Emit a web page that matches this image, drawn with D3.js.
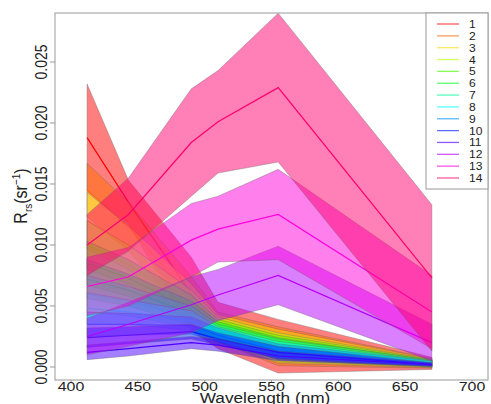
<!DOCTYPE html>
<html>
<head>
<meta charset="utf-8">
<script src="https://cdn.jsdelivr.net/npm/d3@7"></script>
<style>
  body { margin: 0; background: #fff; }
  text { font-family: "Liberation Sans", Arial, sans-serif; fill: #222; }
</style>
</head>
<body>
<div id="chart"></div>
<script>
// SeaWiFS bands (nm)
var wavelengths = [412, 443, 490, 510, 555, 670];
var classNames = ['1','2','3','4','5','6','7','8','9','10','11','12','13','14'];
var xTicks = [400, 450, 500, 550, 600, 650, 700];
var yTicks = [0, 0.005, 0.010, 0.015, 0.020, 0.025];

// class mean Rrs (sr^-1), one row per class
var meanRrs = [
  [0.0188, 0.0135, 0.0060, 0.0034, 0.0017, 0.0003],
  [0.0145, 0.0115, 0.0056, 0.0033, 0.0017, 0.0003],
  [0.0120, 0.0098, 0.0053, 0.0032, 0.0017, 0.0003],
  [0.0100, 0.0084, 0.0050, 0.0031, 0.0016, 0.0003],
  [0.0085, 0.0073, 0.0047, 0.0030, 0.0016, 0.0003],
  [0.0072, 0.0063, 0.0044, 0.0029, 0.0015, 0.0003],
  [0.0060, 0.0054, 0.0041, 0.0028, 0.0015, 0.0003],
  [0.0048, 0.0045, 0.0038, 0.0027, 0.0014, 0.0003],
  [0.0035, 0.0035, 0.0034, 0.0026, 0.0013, 0.0003],
  [0.0024, 0.0026, 0.0029, 0.0023, 0.0012, 0.0002],
  [0.0012, 0.0015, 0.0020, 0.0018, 0.0009, 0.0002],
  [0.0025, 0.0035, 0.0051, 0.0059, 0.0075, 0.0020],
  [0.0066, 0.0074, 0.0104, 0.0113, 0.0125, 0.0045],
  [0.0100, 0.0125, 0.0184, 0.0201, 0.0229, 0.0073]
];
// standard deviation, same layout
var sdRrs = [
  [0.0044, 0.0018, 0.0030, 0.0019, 0.0022, 0.0005],
  [0.0022, 0.0020, 0.0018, 0.0012, 0.0016, 0.0004],
  [0.0023, 0.0018, 0.0015, 0.0011, 0.0014, 0.00035],
  [0.0020, 0.0016, 0.0013, 0.0010, 0.0012, 0.0003],
  [0.0018, 0.0015, 0.0012, 0.0009, 0.0010, 0.0003],
  [0.0016, 0.0013, 0.0010, 0.0008, 0.0009, 0.00025],
  [0.0015, 0.0012, 0.0009, 0.0007, 0.0008, 0.00025],
  [0.0013, 0.0010, 0.0008, 0.0006, 0.0007, 0.0002],
  [0.0010, 0.0009, 0.0007, 0.0006, 0.0006, 0.0002],
  [0.0008, 0.0007, 0.0006, 0.0005, 0.0005, 0.00015],
  [0.0006, 0.0006, 0.0005, 0.0005, 0.0004, 0.00015],
  [0.0015, 0.0018, 0.0023, 0.0021, 0.0024, 0.0015],
  [0.0024, 0.0024, 0.0030, 0.0027, 0.0037, 0.0030],
  [0.0025, 0.0030, 0.0044, 0.0042, 0.0061, 0.0060]
];

var width = 491, height = 404;
var plot = {left: 55, right: 488, top: 13, bottom: 380};

// R style rainbow(14)
var colors = classNames.map(function (d, i) {
  return d3.hsl(360 * i / classNames.length, 1, 0.5).formatHex();
});

var svg = d3.select('#chart').append('svg')
  .attr('width', width)
  .attr('height', height);

var x = d3.scaleLinear().domain([388, 712]).range([plot.left, plot.right]);
var y = d3.scaleLinear().domain([-0.001066, 0.029016]).range([plot.bottom, plot.top]);

svg.append('clipPath').attr('id', 'clip')
  .append('rect')
  .attr('x', plot.left).attr('y', plot.top)
  .attr('width', plot.right - plot.left).attr('height', plot.bottom - plot.top);

var g = svg.append('g').attr('clip-path', 'url(#clip)');

var band = d3.area()
  .x(function (d) { return x(d.w); })
  .y0(function (d) { return y(d.m - d.s); })
  .y1(function (d) { return y(d.m + d.s); });
var line = d3.line()
  .x(function (d) { return x(d.w); })
  .y(function (d) { return y(d.m); });

// each class: mean +/- sd band, then its mean line
classNames.forEach(function (c, i) {
  var pts = wavelengths.map(function (w, j) {
    return {w: w, m: meanRrs[i][j], s: sdRrs[i][j]};
  });
  g.append('path')
    .attr('d', band(pts))
    .attr('fill', colors[i])
    .attr('fill-opacity', 0.5)
    .attr('stroke', '#666')
    .attr('stroke-opacity', 0.6)
    .attr('stroke-width', 0.6);
  g.append('path')
    .attr('d', line(pts))
    .attr('fill', 'none')
    .attr('stroke', colors[i])
    .attr('stroke-width', 1.2);
});

// frame
svg.append('rect')
  .attr('x', plot.left).attr('y', plot.top)
  .attr('width', plot.right - plot.left).attr('height', plot.bottom - plot.top)
  .attr('fill', 'none').attr('stroke', '#999').attr('stroke-width', 1);

// y ticks + labels (rotated like R's las=0)
yTicks.forEach(function (t) {
  svg.append('line')
    .attr('x1', plot.left - 5).attr('x2', plot.left)
    .attr('y1', y(t)).attr('y2', y(t))
    .attr('stroke', '#999');
  svg.append('text')
    .attr('transform', 'translate(47,' + y(t) + ') rotate(-90) scale(1,1.18)')
    .attr('text-anchor', 'middle')
    .style('font-size', '14px')
    .text(d3.format('.3f')(t));
});

// x ticks + labels
xTicks.forEach(function (t) {
  svg.append('line')
    .attr('x1', x(t)).attr('x2', x(t))
    .attr('y1', plot.bottom).attr('y2', plot.bottom + 3)
    .attr('stroke', '#999');
  svg.append('text')
    .attr('transform', 'translate(' + x(t) + ',' + (plot.bottom + 11) + ') scale(1.18,1)')
    .attr('text-anchor', 'middle')
    .style('font-size', '13.5px')
    .text(t);
});

// axis titles
svg.append('text')
  .attr('transform', 'translate(265,403) scale(1.15,1)')
  .attr('text-anchor', 'middle')
  .style('font-size', '15px')
  .text('Wavelength (nm)');

var yl = svg.append('text')
  .attr('transform', 'translate(27,196) rotate(-90) scale(1,1.15)')
  .attr('text-anchor', 'middle')
  .style('font-size', '16px');
yl.append('tspan').text('R');
yl.append('tspan').attr('dy', 4).style('font-size', '10px').text('rs');
yl.append('tspan').attr('dy', -4).text('(sr');
yl.append('tspan').attr('dy', -6).style('font-size', '10px').text('\u22121');
yl.append('tspan').attr('dy', 6).text(')');

// legend
var lg = svg.append('g');
lg.append('rect')
  .attr('x', 426).attr('y', plot.top)
  .attr('width', plot.right - 426).attr('height', 189 - plot.top)
  .attr('fill', '#fff').attr('stroke', '#999');
var ly = d3.scalePoint().domain(classNames).range([24, 178]);
classNames.forEach(function (c, i) {
  lg.append('line')
    .attr('x1', 437).attr('x2', 459)
    .attr('y1', ly(c)).attr('y2', ly(c))
    .attr('stroke', colors[i]).attr('stroke-opacity', 0.65)
    .attr('stroke-width', 1.3);
  lg.append('text')
    .attr('transform', 'translate(469,' + (ly(c) + 4) + ') scale(1.15,1)')
    .style('font-size', '10.5px')
    .text(c);
});
</script>
</body>
</html>
